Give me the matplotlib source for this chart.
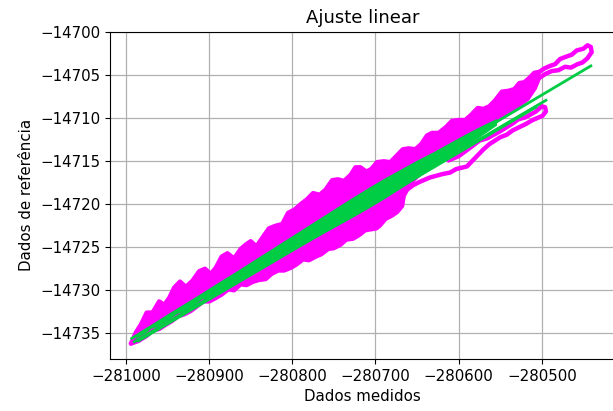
"""Ajuste linear: dados medidos vs dados de referencia, com a reta ajustada."""
import matplotlib

matplotlib.use("Agg")
import matplotlib.pyplot as plt

MAGENTA = "#ff00ff"
GREEN = "#00cc44"

# upper edge of the measured cloud (left -> right)
upper_x = [
    -280994, -280988, -280982, -280975, -280968, -280960, -280954, -280948, -280942, -280935,
    -280928, -280920, -280912, -280905, -280898, -280892, -280885, -280878, -280870, -280862,
    -280856, -280850, -280843, -280836, -280828, -280820, -280812, -280805, -280797, -280790,
    -280782, -280775, -280767, -280760, -280752, -280745, -280738, -280730, -280724, -280718,
    -280711, -280705, -280698, -280690, -280682, -280675, -280667, -280660, -280652, -280645,
    -280638, -280632, -280624, -280615, -280608, -280600, -280592, -280585, -280577, -280570,
    -280563, -280556, -280548, -280540, -280533, -280527, -280521, -280515, -280509, -280503,
]
upper_y = [
    -14736.2, -14734.9, -14734.0, -14732.6, -14732.6, -14731.3, -14731.7, -14730.9, -14729.7, -14729.0,
    -14729.6, -14728.9, -14727.8, -14727.5, -14728.1, -14727.4, -14726.1, -14725.7, -14726.3, -14725.2,
    -14724.7, -14724.3, -14724.9, -14723.9, -14722.8, -14722.5, -14722.3, -14721.0, -14720.6, -14720.0,
    -14719.4, -14718.7, -14718.9, -14718.3, -14717.2, -14717.1, -14717.3, -14716.6, -14715.7, -14715.7,
    -14716.2, -14715.9, -14715.1, -14715.0, -14715.1, -14714.4, -14713.6, -14713.5, -14713.6, -14713.0,
    -14712.0, -14711.7, -14711.7, -14711.0, -14710.3, -14710.2, -14710.2, -14709.6, -14708.8, -14708.9,
    -14708.6, -14707.9, -14706.9, -14706.8, -14706.6, -14705.9, -14705.8, -14705.3, -14704.7, -14704.6,
]

# lower edge of the main cloud (left -> right)
lower_x = [
    -280994, -280985, -280975, -280968, -280960, -280952, -280945, -280937, -280930, -280922,
    -280915, -280907, -280900, -280892, -280885, -280877, -280870, -280862, -280855, -280847,
    -280840, -280832, -280825, -280817, -280810, -280802, -280795, -280787, -280780, -280772,
    -280765, -280757, -280750, -280742, -280735, -280727, -280720, -280712, -280705, -280699,
    -280695, -280688, -280680, -280674, -280668, -280666, -280662,
]
lower_y = [
    -14736.2, -14735.9, -14735.3, -14734.7, -14734.5, -14734.0, -14733.6, -14733.0, -14732.8, -14732.4,
    -14731.9, -14731.3, -14731.3, -14730.9, -14730.5, -14729.9, -14730.0, -14729.3, -14729.4, -14729.0,
    -14728.8, -14728.7, -14728.1, -14727.7, -14727.7, -14727.4, -14727.0, -14726.4, -14726.5, -14726.1,
    -14725.8, -14725.2, -14725.1, -14724.7, -14724.1, -14724.0, -14723.6, -14723.0, -14722.9, -14722.8,
    -14722.5, -14721.7, -14721.3, -14720.9, -14720.2, -14719.0, -14718.3,
]

# right part of the cloud, just above the fit (right -> left)
right_x = [-280500, -280506, -280515, -280530, -280545, -280560, -280580, -280600, -280620, -280640, -280655]
right_y = [-14705.2, -14706.6, -14707.9, -14709.0, -14709.9, -14711.0, -14712.3, -14713.5, -14714.8, -14716.2, -14717.6]

# loop of measurements below the fit on the right
loop_x = [
    -280662, -280655, -280647, -280635, -280620, -280610, -280603, -280590, -280584, -280579,
    -280570, -280563, -280550, -280542, -280535, -280520, -280511, -280499, -280495, -280496,
    -280500, -280507, -280520, -280528, -280535, -280550, -280565, -280575, -280590, -280600,
    -280612,
]
loop_y = [
    -14718.3, -14717.8, -14717.4, -14716.9, -14716.5, -14716.3, -14715.9, -14715.6, -14715.0, -14714.5,
    -14713.6, -14713.0, -14712.2, -14711.9, -14711.4, -14710.7, -14710.2, -14709.7, -14709.2, -14708.7,
    -14708.6, -14709.2, -14709.9, -14710.1, -14710.6, -14711.5, -14712.3, -14712.6, -14713.7, -14714.4,
    -14714.9,
]

# double strand at the top right end
tail_x = [
    -280503, -280497, -280490, -280484, -280478, -280470, -280464, -280458, -280450, -280445,
    -280441, -280440, -280445, -280451, -280457, -280465, -280472, -280480, -280488, -280495,
    -280503, -280510,
]
tail_y = [
    -14704.6, -14704.2, -14703.9, -14703.7, -14703.1, -14702.8, -14702.6, -14702.1, -14701.9, -14701.5,
    -14701.7, -14702.3, -14703.0, -14703.5, -14703.7, -14704.1, -14704.0, -14704.4, -14704.5, -14704.8,
    -14705.3, -14705.6,
]

# fitted values: band around the fit and the straight fit segments
fit_x = [
    -280993, -280970, -280950, -280930, -280910, -280890, -280870, -280850, -280830, -280810,
    -280790, -280770, -280750, -280730, -280710, -280690, -280670, -280650, -280630, -280610,
    -280590, -280570, -280555,
]
fit_upper = [
    -14735.44, -14734.04, -14732.81, -14731.62, -14730.43, -14729.20, -14728.01, -14726.78, -14725.55, -14724.32,
    -14723.09, -14721.86, -14720.63, -14719.40, -14718.21, -14717.06, -14715.99, -14714.92, -14713.93, -14712.86,
    -14711.79, -14710.80, -14710.10,
]
fit_lower = [
    -14735.76, -14734.52, -14733.45, -14732.34, -14731.23, -14730.16, -14729.05, -14727.98, -14726.91, -14725.84,
    -14724.77, -14723.70, -14722.63, -14721.56, -14720.45, -14719.30, -14718.07, -14716.84, -14715.53, -14714.30,
    -14713.07, -14711.76, -14710.74,
]
fit_lines_x = [(-280993, -280441), (-280990, -280495), (-280985, -280507)]
fit_lines_y = [(-14735.6, -14703.9), (-14736.0, -14707.9), (-14735.9, -14708.7)]

XLIM = (-281019.2, -280412)
YLIM = (-14738.0, -14699.9)


def main() -> None:
    fig = plt.figure(figsize=(6.13, 4.11), dpi=100)
    ax = fig.add_axes([0.1794, 0.1265, 0.8238, 0.7968])

    # body of the measured cloud
    cloud_x = upper_x + right_x + lower_x[::-1]
    cloud_y = upper_y + right_y + lower_y[::-1]
    ax.fill(cloud_x, cloud_y, color=MAGENTA, linewidth=0)

    line_kw = dict(color=MAGENTA, linewidth=3.2, solid_joinstyle="round", solid_capstyle="round")
    for xs, ys in [(upper_x, upper_y), (lower_x, lower_y), (loop_x, loop_y), (tail_x, tail_y)]:
        ax.plot(xs, ys, **line_kw)

    ax.fill_between(fit_x, fit_lower, fit_upper, color=GREEN, linewidth=0.8, edgecolor=GREEN)
    for xs, ys in zip(fit_lines_x, fit_lines_y):
        ax.plot(xs, ys, color=GREEN, linewidth=2.0)

    ax.set_xlim(*XLIM)
    ax.set_ylim(*YLIM)
    ax.ticklabel_format(useOffset=False, style="plain")
    ax.grid(True, color="#b0b0b0", linewidth=0.9)
    ax.set_axisbelow(True)
    ax.tick_params(labelsize=10.8)

    ax.set_title("Ajuste linear", fontsize=13)
    ax.set_xlabel("Dados medidos", fontsize=10.8)
    ax.set_ylabel("Dados de referência", fontsize=10.8)

    fig.savefig("out.png", dpi=100)
    plt.close(fig)


if __name__ == "__main__":
    main()
